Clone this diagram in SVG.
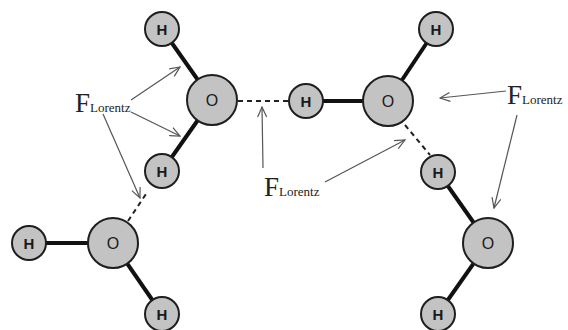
<svg xmlns="http://www.w3.org/2000/svg" width="568" height="330" viewBox="0 0 568 330">
<style>
.atom circle{fill:#c3c3c3;stroke:#1e1e1e;stroke-width:2}
.atom text{font-family:"Liberation Sans",Arial,sans-serif;fill:#1a1a1a;text-anchor:middle;dominant-baseline:central}
.h text{font-size:15px;font-weight:bold}
.o text{font-size:16px}
.bond{stroke:#111;stroke-width:4;stroke-linecap:butt}
.hb{stroke:#222;stroke-width:2;stroke-dasharray:5 4}
.arr{stroke:#555;stroke-width:1.2;fill:none}
.lbl{font-family:"Liberation Serif","Times New Roman",serif;fill:#222}
.big{font-size:27px}
.sub{font-size:13px}
</style>
<defs>
<marker id="ah" markerWidth="12" markerHeight="10" refX="11" refY="5" orient="auto" markerUnits="userSpaceOnUse">
<path d="M1,0.5 L11,5 L1,9.5" fill="none" stroke="#555" stroke-width="1.2"/>
</marker>
</defs>
<rect width="568" height="330" fill="#fff"/>
<g id="connectors">
<line class="bond" x1="162" y1="29" x2="212" y2="100"/>
<line class="bond" x1="162" y1="171" x2="212" y2="100"/>
<line class="bond" x1="306" y1="101" x2="388" y2="101"/>
<line class="bond" x1="436" y1="29" x2="388" y2="101"/>
<line class="bond" x1="29" y1="243" x2="113" y2="243"/>
<line class="bond" x1="162" y1="314" x2="113" y2="243"/>
<line class="bond" x1="438" y1="172" x2="488" y2="243"/>
<line class="bond" x1="438" y1="314" x2="488" y2="243"/>
<line class="hb" x1="238" y1="101" x2="289" y2="101"/>
<line class="hb" x1="128" y1="221" x2="146" y2="194"/>
<line class="hb" x1="405" y1="125" x2="430" y2="155"/>
<line class="arr" x1="131" y1="100" x2="180" y2="67" marker-end="url(#ah)"/>
<line class="arr" x1="131" y1="112" x2="180" y2="136" marker-end="url(#ah)"/>
<line class="arr" x1="103" y1="114" x2="140" y2="198" marker-end="url(#ah)" stroke="#333"/>
<line class="arr" x1="263" y1="168" x2="262" y2="107" marker-end="url(#ah)"/>
<line class="arr" x1="325" y1="182" x2="405" y2="140" marker-end="url(#ah)"/>
<line class="arr" x1="506" y1="91" x2="440" y2="98" marker-end="url(#ah)"/>
<line class="arr" x1="517" y1="115" x2="494" y2="208" marker-end="url(#ah)"/>
</g>
<g id="mol1-H1" class="atom h"><circle cx="162" cy="29" r="17"/><text x="162" y="29">H</text></g>
<g id="mol1-O" class="atom o"><circle cx="212" cy="100" r="25"/><text x="212" y="100">O</text></g>
<g id="mol1-H2" class="atom h"><circle cx="162" cy="171" r="17"/><text x="162" y="171">H</text></g>
<g id="mol2-H1" class="atom h"><circle cx="306" cy="101" r="17"/><text x="306" y="101">H</text></g>
<g id="mol2-O" class="atom o"><circle cx="388" cy="101" r="25"/><text x="388" y="101">O</text></g>
<g id="mol2-H2" class="atom h"><circle cx="436" cy="29" r="17"/><text x="436" y="29">H</text></g>
<g id="mol3-H1" class="atom h"><circle cx="29" cy="243" r="17"/><text x="29" y="243">H</text></g>
<g id="mol3-O" class="atom o"><circle cx="113" cy="243" r="25"/><text x="113" y="243">O</text></g>
<g id="mol3-H2" class="atom h"><circle cx="162" cy="314" r="17"/><text x="162" y="314">H</text></g>
<g id="mol4-H1" class="atom h"><circle cx="438" cy="172" r="17"/><text x="438" y="172">H</text></g>
<g id="mol4-O" class="atom o"><circle cx="488" cy="243" r="25"/><text x="488" y="243">O</text></g>
<g id="mol4-H2" class="atom h"><circle cx="438" cy="314" r="17"/><text x="438" y="314">H</text></g>
<g id="label-left"><text class="lbl" x="75" y="112"><tspan class="big">F</tspan><tspan class="sub">Lorentz</tspan></text></g>
<g id="label-mid"><text class="lbl" x="264" y="196"><tspan class="big">F</tspan><tspan class="sub">Lorentz</tspan></text></g>
<g id="label-right"><text class="lbl" x="507" y="104"><tspan class="big">F</tspan><tspan class="sub">Lorentz</tspan></text></g>
</svg>
